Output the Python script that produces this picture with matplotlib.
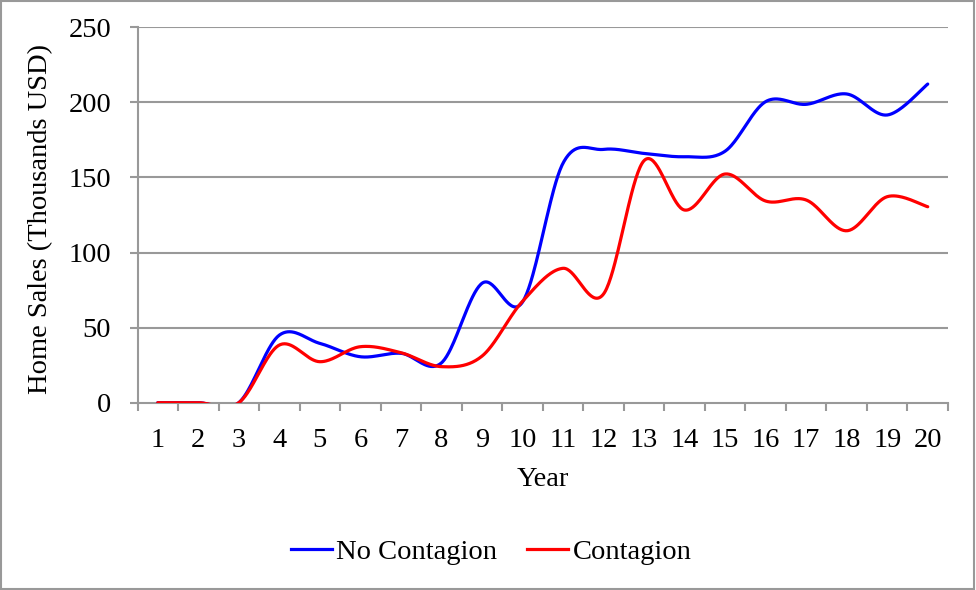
import numpy as np
import matplotlib
matplotlib.use("Agg")
import matplotlib.pyplot as plt
from matplotlib.lines import Line2D

years = list(range(1, 21))
no_contagion = [0, 0, 0, 45, 39.5, 30.6, 32.9, 26.5, 79.5, 67, 159.5, 168.7, 166, 163.8, 167.5, 200.5, 198.7, 205.6, 191.6, 212.2]
contagion = [0, 0, 0, 38.4, 27.3, 37.3, 33.3, 24, 31, 67.5, 89.5, 72.4, 161.2, 128.3, 152.3, 134.3, 135, 114.5, 137.2, 130.5]
yticks = [0, 50, 100, 150, 200, 250]

plt.rcParams['font.family'] = ['Liberation Serif', 'DejaVu Serif']
FS = 20.5
GRID = '#999999'


def smooth(x, y, n=40):
    x = np.asarray(x, float)
    y = np.asarray(y, float)
    px = np.concatenate([[x[0]], x, [x[-1]]])
    py = np.concatenate([[y[0]], y, [y[-1]]])
    xs, ys = [], []
    t = np.linspace(0, 1, n)
    for i in range(1, len(px) - 2):
        p0 = np.array([px[i], py[i]])
        p3 = np.array([px[i + 1], py[i + 1]])
        c1 = p0 + (np.array([px[i + 1], py[i + 1]]) - np.array([px[i - 1], py[i - 1]])) / 6
        c2 = p3 - (np.array([px[i + 2], py[i + 2]]) - np.array([px[i], py[i]])) / 6
        b = ((1 - t) ** 3)[:, None] * p0 + (3 * (1 - t) ** 2 * t)[:, None] * c1 \
            + (3 * (1 - t) * t ** 2)[:, None] * c2 + (t ** 3)[:, None] * p3
        xs.append(b[:, 0])
        ys.append(b[:, 1])
    return np.concatenate(xs), np.concatenate(ys)


fig = plt.figure(figsize=(9.76, 5.9), dpi=100)
ax = fig.add_axes([137.5 / 976, 1 - 402.7 / 590, (948 - 137.5) / 976, (402.7 - 27.3) / 590])

for v in yticks[1:]:
    ax.axhline(v, color=GRID, lw=1.5, zorder=1)

sx, sy = smooth(years, no_contagion)
ax.plot(sx, sy, color='#0000ff', lw=2.3, zorder=3, solid_capstyle='round')
sx, sy = smooth(years, contagion)
ax.plot(sx, sy, color='#ff0000', lw=2.3, zorder=3, solid_capstyle='round')

ax.set_xlim(0.5, 20.5)
ax.set_ylim(0, 250)
ax.set_yticks(yticks)
ax.set_xticks([i + 0.5 for i in range(0, 21)])
ax.set_xticklabels([])
ax.set_xticks(years, minor=True)
ax.set_xticklabels([str(y) for y in years], minor=True)
ax.tick_params(axis='x', which='major', length=6, width=1.5, color=GRID, direction='out')
ax.tick_params(axis='x', which='minor', length=0, pad=18, labelsize=FS)
ax.tick_params(axis='y', length=6, width=1.5, color=GRID, direction='out', pad=13, labelsize=FS)
for s in ['top', 'right']:
    ax.spines[s].set_visible(False)
for s in ['left', 'bottom']:
    ax.spines[s].set_color(GRID)
    ax.spines[s].set_linewidth(1.5)

ax.set_xlabel('Year', fontsize=FS)
ax.xaxis.set_label_coords(0.5, -0.17)
ax.set_ylabel('Home Sales (Thousands USD)', fontsize=FS)
ax.yaxis.set_label_coords(-0.104, 0.489)

handles = [Line2D([], [], color='#0000ff', lw=2.3), Line2D([], [], color='#ff0000', lw=2.3)]
fig.legend(handles, ['No Contagion', 'Contagion'], loc='center', bbox_to_anchor=(491 / 976, 1 - 552 / 590),
           ncol=2, frameon=False, fontsize=FS, handlelength=1.45, handletextpad=0.15, columnspacing=1.05)

fig.add_artist(plt.Rectangle((0.001, 0.002), 0.997, 0.996, transform=fig.transFigure,
                             fill=False, edgecolor='#999999', lw=1.5))

fig.savefig('out.png', dpi=100)
